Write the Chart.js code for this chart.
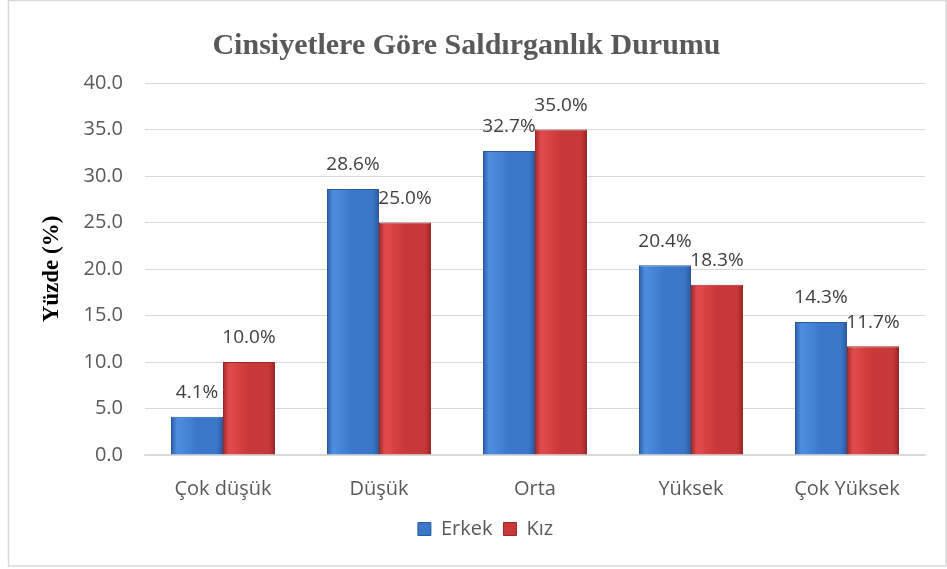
<!DOCTYPE html>
<html>
<head>
<meta charset="utf-8">
<script src="https://cdn.jsdelivr.net/npm/chart.js@4/dist/chart.umd.min.js"></script>
<style>
  html, body { margin: 0; padding: 0; background: #fff; }
  canvas { display: block; }
</style>
</head>
<body>
<canvas id="chart" width="947" height="569"></canvas>
<script>
const CATEGORIES = ["Çok düşük", "Düşük", "Orta", "Yüksek", "Çok Yüksek"];
const ERKEK = [4.1, 28.6, 32.7, 20.4, 14.3];
const KIZ = [10.0, 25.0, 35.0, 18.3, 11.7];
const Y_MIN = 0;
const Y_MAX = 40;
const Y_STEP = 5;

const BLUE = { edge: "#2c5fa8", light: "#4f8fe0", mid: "#3a77c8", dark: "#2a5a9e" };
const RED = { edge: "#a62b2b", light: "#e24b4b", mid: "#c93838", dark: "#9c2626" };

const LABEL_FONT = "'Open Sans', sans-serif";
const SERIF = "'Liberation Serif', 'Times New Roman', serif";

// grey frame round the whole chart
const framePlugin = {
  id: "frame",
  beforeDraw(chart) {
    const ctx = chart.ctx;
    ctx.save();
    ctx.strokeStyle = "#d9d9d9";
    ctx.lineWidth = 1.5;
    ctx.strokeRect(8.5, 0.5, 937.5, 565.5);
    ctx.restore();
  },
};

// bevel-ish horizontal gradient on each bar
const bevelPlugin = {
  id: "bevel",
  beforeDatasetsDraw(chart) {
    const ctx = chart.ctx;
    chart.data.datasets.forEach((ds, i) => {
      const pal = i === 0 ? BLUE : RED;
      chart.getDatasetMeta(i).data.forEach((bar) => {
        const x0 = bar.x - bar.width / 2;
        const g = ctx.createLinearGradient(x0, 0, x0 + bar.width, 0);
        g.addColorStop(0, pal.edge);
        g.addColorStop(0.12, pal.light);
        g.addColorStop(0.5, pal.mid);
        g.addColorStop(0.88, pal.mid);
        g.addColorStop(1, pal.dark);
        bar.options.backgroundColor = g;
      });
    });
  },
};

// value labels above bars
const valueLabelPlugin = {
  id: "valueLabels",
  afterDatasetsDraw(chart) {
    const ctx = chart.ctx;
    ctx.save();
    ctx.font = "19px " + LABEL_FONT;
    ctx.fillStyle = "#404040";
    ctx.textAlign = "center";
    ctx.textBaseline = "middle";
    chart.data.datasets.forEach((ds, i) => {
      chart.getDatasetMeta(i).data.forEach((bar, j) => {
        ctx.fillText(ds.data[j].toFixed(1) + "%", bar.x, bar.y - 24);
      });
    });
    ctx.restore();
  },
};

// legend sits a little right of the centre in the original
const legendShift = {
  id: "legendShift",
  afterLayout(chart) {
    chart.legend.left += 19;
    chart.legend.right += 19;
  },
};

new Chart(document.getElementById("chart"), {
  type: "bar",
  data: {
    labels: CATEGORIES,
    datasets: [
      {
        label: "Erkek",
        data: ERKEK,
        backgroundColor: () => BLUE.mid,
        borderColor: BLUE.dark,
        borderWidth: 1,
      },
      {
        label: "Kız",
        data: KIZ,
        backgroundColor: () => RED.mid,
        borderColor: RED.dark,
        borderWidth: 1,
      },
    ],
  },
  plugins: [framePlugin, bevelPlugin, valueLabelPlugin, legendShift],
  options: {
    responsive: false,
    animation: false,
    categoryPercentage: 0.667,
    barPercentage: 1,
    layout: { padding: { left: 8, right: 22, top: 0, bottom: 20 } },
    plugins: {
      tooltip: { enabled: false },
      title: {
        display: true,
        text: "Cinsiyetlere Göre Saldırganlık Durumu",
        color: "#595959",
        font: { family: SERIF, size: 30, weight: "bold" },
        padding: { top: 28, bottom: 19 },
      },
      legend: {
        position: "bottom",
        labels: {
          color: "#595959",
          font: { family: LABEL_FONT, size: 20 },
          boxWidth: 13,
          boxHeight: 13,
          padding: 11,
        },
      },
    },
    scales: {
      x: {
        grid: { display: false },
        border: { color: "#d9d9d9", width: 1.5 },
        ticks: {
          color: "#595959",
          font: { family: LABEL_FONT, size: 20 },
          padding: 14,
        },
        afterFit(scale) { scale.height = 53; },
      },
      y: {
        min: Y_MIN,
        max: Y_MAX,
        grid: { color: "#d9d9d9", drawTicks: false },
        border: { display: false },
        ticks: {
          stepSize: Y_STEP,
          color: "#595959",
          font: { family: LABEL_FONT, size: 20 },
          padding: 22,
          callback: (v) => v.toFixed(1),
        },
        title: {
          display: true,
          text: "Yüzde (%)",
          color: "#000000",
          font: { family: SERIF, size: 23, weight: "bold" },
          padding: { top: 30, bottom: 0 },
        },
        afterFit(scale) { scale.width = 137; },
      },
    },
  },
});
</script>
</body>
</html>
